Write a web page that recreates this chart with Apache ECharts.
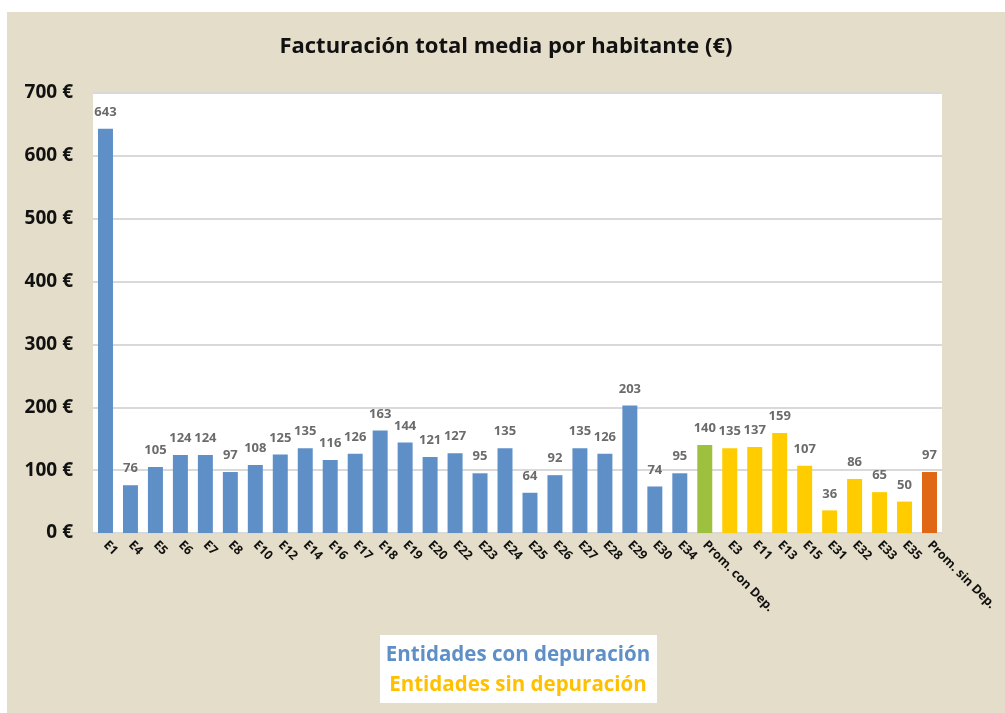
<!DOCTYPE html>
<html>
<head>
<meta charset="utf-8">
<script src="https://cdn.jsdelivr.net/npm/echarts@6/dist/echarts.min.js"></script>
<style>
  html, body { margin: 0; padding: 0; background: #ffffff; }
  #chart { position: absolute; left: 7px; top: 12px; width: 998px; height: 701px; }
</style>
</head>
<body>
<div id="chart"></div>
<script>
// Entities and average billing per inhabitant (€)
const categories = ['E1','E4','E5','E6','E7','E8','E10','E12','E14','E16','E17','E18','E19','E20','E22','E23','E24','E25','E26','E27','E28','E29','E30','E34','Prom. con Dep.','E3','E11','E13','E15','E31','E32','E33','E35','Prom. sin Dep.'];
const values = [643,76,105,124,124,97,108,125,135,116,126,163,144,121,127,95,135,64,92,135,126,203,74,95,140,135,137,159,107,36,86,65,50,97];
// group of each entity: c = with treatment, cAvg = average with, s = without, sAvg = average without
const groups = ['c','c','c','c','c','c','c','c','c','c','c','c','c','c','c','c','c','c','c','c','c','c','c','c','cAvg','s','s','s','s','s','s','s','s','sAvg'];
const yTicks = [0,100,200,300,400,500,600,700];

const groupColors = { c: '#5E8FC7', cAvg: '#9DC13F', s: '#FFCC00', sAvg: '#E06713' };
const FONT = '"Open Sans", Lato, sans-serif';

const chart = echarts.init(document.getElementById('chart'));
chart.setOption({
  backgroundColor: '#E4DDC9',
  animation: false,
  title: {
    text: 'Facturación total media por habitante (€)',
    left: 'center',
    top: 19,
    textStyle: { fontFamily: FONT, fontSize: 22, fontWeight: 'bold', color: '#111' }
  },
  grid: {
    left: 86, right: 63, top: 81, bottom: 180,
    show: true, backgroundColor: '#ffffff', borderWidth: 0
  },
  xAxis: {
    type: 'category',
    data: categories,
    axisLine: { lineStyle: { color: '#d9d9d9', width: 2 } },
    axisTick: { show: false },
    axisLabel: {
      interval: 0, rotate: -45, margin: 10,
      fontFamily: FONT, fontSize: 12.5, fontWeight: 'bold', color: '#111'
    }
  },
  yAxis: {
    type: 'value',
    min: yTicks[0], max: yTicks[yTicks.length - 1], interval: 100,
    axisLine: { show: false },
    axisTick: { show: false },
    splitLine: { lineStyle: { color: '#d9d9d9', width: 2 } },
    axisLabel: {
      margin: 20,
      formatter: v => v + ' €',
      fontFamily: FONT, fontSize: 19, fontWeight: 'bold', color: '#111'
    }
  },
  series: [{
    type: 'bar',
    barWidth: '60%',
    data: values.map((v, i) => ({ value: v, itemStyle: { color: groupColors[groups[i]] } })),
    label: {
      show: true, position: 'top', distance: 10,
      fontFamily: FONT, fontSize: 13, fontWeight: 'bold', color: '#6B6B6B'
    }
  }],
  graphic: [
    { type: 'rect', left: 373, top: 623, shape: { width: 277, height: 68 }, style: { fill: '#ffffff' } },
    { type: 'text', x: 511, y: 643, style: { text: 'Entidades con depuración', fill: '#5E8FC7', font: 'bold 20.5px ' + FONT, textAlign: 'center', textVerticalAlign: 'middle' } },
    { type: 'text', x: 511, y: 673, style: { text: 'Entidades sin depuración', fill: '#FFC000', font: 'bold 20.5px ' + FONT, textAlign: 'center', textVerticalAlign: 'middle' } }
  ]
});
</script>
</body>
</html>
